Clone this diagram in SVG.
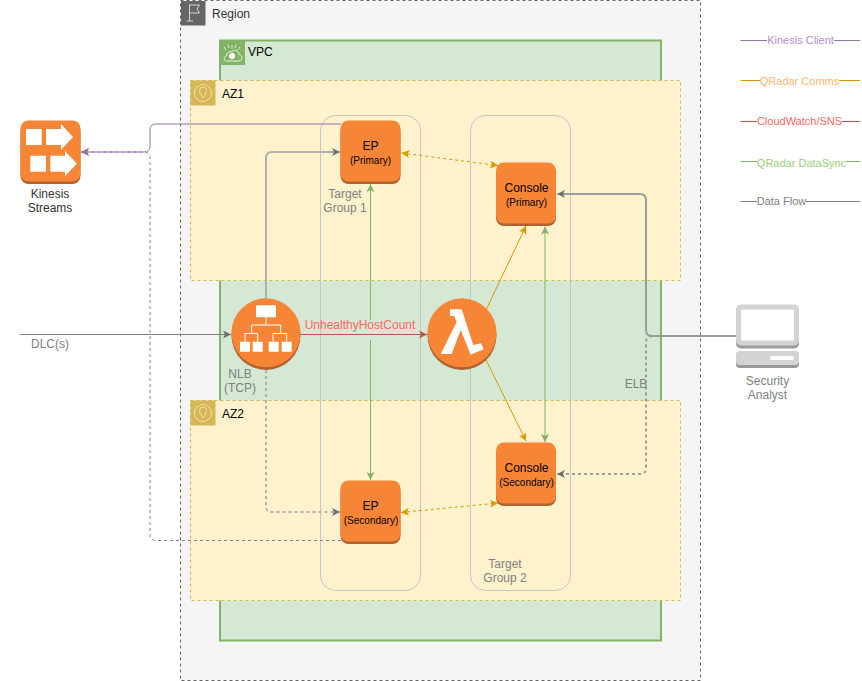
<svg xmlns="http://www.w3.org/2000/svg" width="862" height="681" viewBox="0 0 862 681">
<style>
text{font-family:"Liberation Sans",Arial,sans-serif;font-size:12px;text-anchor:middle}
.l{text-anchor:start}
.s{font-size:10px}
.lg{font-size:11px}
.g{fill:#808080}
.b{fill:#000}
.d{fill:#333}
.res{fill:#f68536}
.shade{fill:#b0622d}
.w{fill:#fff}
.tg{fill:none;stroke:#c3c5cc;stroke-width:1}
.az{fill:#fff2cc;stroke:#d6b656;stroke-dasharray:3 3}
.pu{stroke:#9673a6;fill:none}
.am{stroke:#d79b00;fill:none}
.gr{stroke:#82b366;fill:none}
.re{stroke:#b85450;fill:none}
.gy{stroke:#808080;fill:none}
.flow{stroke:#b0b0b0;stroke-width:2;fill:none}
.flow2{stroke:#9c9c9c;stroke-width:2;fill:none}
.dash{stroke-dasharray:3 3}
</style>
<defs>
<marker id="aPu" markerUnits="userSpaceOnUse" markerWidth="10" markerHeight="10" refX="8" refY="4" orient="auto-start-reverse"><path d="M0,0L8,4L0,8L2,4Z" fill="#9673a6"/></marker>
<marker id="aAm" markerUnits="userSpaceOnUse" markerWidth="10" markerHeight="10" refX="8" refY="4" orient="auto-start-reverse"><path d="M0,0L8,4L0,8L2,4Z" fill="#d79b00"/></marker>
<marker id="aGr" markerUnits="userSpaceOnUse" markerWidth="10" markerHeight="10" refX="8" refY="4" orient="auto-start-reverse"><path d="M0,0L8,4L0,8L2,4Z" fill="#82b366"/></marker>
<marker id="aRe" markerUnits="userSpaceOnUse" markerWidth="10" markerHeight="10" refX="8" refY="4" orient="auto-start-reverse"><path d="M0,0L8,4L0,8L2,4Z" fill="#b85450"/></marker>
<marker id="aGy" markerUnits="userSpaceOnUse" markerWidth="10" markerHeight="10" refX="8" refY="4" orient="auto-start-reverse"><path d="M0,0L8,4L0,8L2,4Z" fill="#6f6f6f"/></marker>
</defs>

<g id="region">
<rect x="180.500" y="0.500" width="520" height="680" fill="#f5f5f5" stroke="#666" stroke-dasharray="3 3"/>
<rect x="181" y="1" width="24.500" height="24.500" fill="#666"/>
<path d="M189.500,21V4.500M189.500,5H199.500L197,9L199.500,13H189.500M186.500,21H193" fill="none" stroke="#eee" stroke-width="0.800"/>
<text class="l d" x="212" y="18">Region</text>
</g>
<g id="vpc">
<rect x="220" y="40.500" width="441" height="600" fill="#d5e8d4" stroke="#82b366" stroke-width="2"/>
<rect x="220" y="40" width="25" height="25" fill="#82b366"/>
<path d="M226,61H239C243,61 243,55 239,54.500C239,50 233,49 231.500,52C228,51 226,54 227,55.500C223,56.500 224,61 226,61Z" fill="none" stroke="#fff" stroke-width="0.800"/>
<circle cx="232" cy="56" r="3" fill="#fff"/>
<path d="M232,49V45M226,50L224,47M238,50L240,47M229,48L228,45M235,48L236,45" stroke="#fff" stroke-width="0.700"/>
<text class="l b" x="248" y="56">VPC</text>
</g>
<g id="az1">
<rect class="az" x="190.500" y="80.500" width="490" height="200"/>
<rect x="190.500" y="80.500" width="25" height="25" fill="#d6b656"/>
<circle cx="203" cy="93" r="8.500" fill="none" stroke="#fff2cc" stroke-width="0.700"/>
<path d="M203,98C200,93.500 199.500,92 199.500,90.500A3.500,3.500 0 0 1 206.500,90.500C206.500,92 206,93.500 203,98Z" fill="none" stroke="#fff2cc" stroke-width="0.700"/>
<text class="l b" x="222" y="98">AZ1</text>
</g>
<g id="az2">
<rect class="az" x="190.500" y="400.500" width="490" height="200"/>
<rect x="190.500" y="400.500" width="25" height="25" fill="#d6b656"/>
<circle cx="203" cy="413" r="8.500" fill="none" stroke="#fff2cc" stroke-width="0.700"/>
<path d="M203,418C200,413.500 199.500,412 199.500,410.500A3.500,3.500 0 0 1 206.500,410.500C206.500,412 206,413.500 203,418Z" fill="none" stroke="#fff2cc" stroke-width="0.700"/>
<text class="l b" x="222" y="418">AZ2</text>
</g>
<g id="target-group-1">
<rect class="tg" x="320.500" y="115.500" width="100" height="475" rx="15"/>
<text class="g" x="345" y="198">Target</text>
<text class="g" x="345" y="212">Group 1</text>
</g>
<g id="target-group-2">
<rect class="tg" x="470.500" y="115.500" width="100" height="475" rx="15"/>
<text class="g" x="505" y="568">Target</text>
<text class="g" x="505" y="582">Group 2</text>
</g>

<g id="connectors">
<path class="pu" d="M341,124H156Q150,124 150,130V146Q150,152 144,152H81" marker-end="url(#aPu)"/>
<path class="pu dash" d="M341,540.500H156Q150,540.500 150,534.500V158Q150,152 144,152H81" marker-end="url(#aPu)"/>
<path class="flow" d="M266,299V158Q266,152 272,152H335"/>
<path class="gy" d="M334,152H340" marker-end="url(#aGy)"/>
<path class="flow dash" d="M266,370V506Q266,512 272,512H335"/>
<path class="gy" d="M334,512H340" marker-end="url(#aGy)"/>
<path class="flow2" d="M736,336H652Q646,336 646,330V200Q646,194 640,194H562"/>
<path class="gy" d="M563,194H557" marker-end="url(#aGy)"/>
<path class="flow2 dash" d="M736,336H652Q646,336 646,342V468Q646,474 640,474H562"/>
<path class="gy" d="M563,474H557" marker-end="url(#aGy)"/>
<path class="gy" d="M20,334.500H231" marker-end="url(#aGy)"/>
<path class="am dash" d="M401.500,153L498,165.500" marker-start="url(#aAm)" marker-end="url(#aAm)"/>
<path class="am dash" d="M401,512.500L498,503" marker-start="url(#aAm)" marker-end="url(#aAm)"/>
<path class="am" d="M486,310L526,226" marker-end="url(#aAm)"/>
<path class="am" d="M486,360L526,441" marker-end="url(#aAm)"/>
<path class="gr" d="M370.500,184V320" marker-start="url(#aGr)"/>
<path class="gr" d="M370.500,340V480" marker-end="url(#aGr)"/>
<path class="gr" d="M545,226.500V442" marker-start="url(#aGr)" marker-end="url(#aGr)"/>
<path class="re" d="M300,334.500H427" marker-end="url(#aRe)"/>
<text x="360" y="329" fill="#ff6666">UnhealthyHostCount</text>
<text class="g" x="50" y="348">DLC(s)</text>
<text class="g" x="240" y="378">NLB</text>
<text class="g" x="240" y="392">(TCP)</text>
<text class="g" x="636" y="388">ELB</text>
</g>

<g id="kinesis">
<rect class="shade" x="20.500" y="123" width="60" height="61" rx="8"/>
<rect class="res" x="20.500" y="120.500" width="60" height="61" rx="8"/>
<path class="w" d="M26,129H41.700V145H26ZM46,129H61V124L73,137L61,150V145H46ZM30.300,155.700H46V171.700H30.300ZM50.300,155.700H65V151L77,163.700L65,176V171.700H50.300Z"/>
<text class="d" x="50" y="198">Kinesis</text>
<text class="d" x="50" y="212">Streams</text>
</g>
<g id="ep-primary">
<rect class="shade" x="340.500" y="123" width="60" height="61" rx="8"/>
<rect class="res" x="340.500" y="120.500" width="60" height="61" rx="8"/>
<text class="b" x="370.500" y="150">EP</text>
<text class="b s" x="370.500" y="164">(Primary)</text>
</g>
<g id="console-primary">
<rect class="shade" x="496" y="165" width="60" height="61" rx="8"/>
<rect class="res" x="496" y="162.500" width="60" height="61" rx="8"/>
<text class="b" x="526.500" y="192">Console</text>
<text class="b s" x="526.500" y="206">(Primary)</text>
</g>
<g id="ep-secondary">
<rect class="shade" x="340.500" y="483" width="60" height="61" rx="8"/>
<rect class="res" x="340.500" y="480.500" width="60" height="61" rx="8"/>
<text class="b" x="370.500" y="510">EP</text>
<text class="b s" x="371" y="524">(Secondary)</text>
</g>
<g id="console-secondary">
<rect class="shade" x="496" y="445" width="60" height="61" rx="8"/>
<rect class="res" x="496" y="442.500" width="60" height="61" rx="8"/>
<text class="b" x="526.500" y="472">Console</text>
<text class="b s" x="526.500" y="486">(Secondary)</text>
</g>
<g id="nlb">
<circle class="shade" cx="266" cy="335.500" r="34.500"/>
<circle class="res" cx="266" cy="332.800" r="34.500"/>
<path class="w" d="M256,305.300H276V317.300H256ZM240,341.700H250V351.700H240ZM252.700,341.700H262.700V351.700H252.700ZM268.700,341.700H278.700V351.700H268.700ZM281.700,341.700H291.700V351.700H281.700Z"/>
<path d="M266,317V325M251.700,333V325H280.700V333M245,341.700V333.500H257.700V341.700M273,341.700V333.500H286.700V341.700" fill="none" stroke="#fff" stroke-width="1"/>
</g>
<g id="lambda">
<circle class="shade" cx="462" cy="335.500" r="34.500"/>
<circle class="res" cx="462" cy="332.800" r="34.500"/>
<path class="w" d="M450,309.300H461.700L473.300,345L481,343.300L483.700,349.300L470.700,354.700L460.700,330L451.700,354H440.700L456.700,321.700L454,316H450Z"/>
</g>
<g id="security-analyst">
<rect x="736" y="306" width="63" height="42.500" rx="5" fill="#9a9a9a"/>
<rect x="736" y="304.500" width="63" height="41" rx="5" fill="#d2d3d3"/>
<rect x="741" y="309.500" width="53" height="31" rx="1" fill="#fff"/>
<rect x="736" y="352" width="63" height="16" rx="4" fill="#9a9a9a"/>
<rect x="736" y="351" width="63" height="14" rx="4" fill="#d2d3d3"/>
<rect x="770" y="356" width="24" height="4" rx="2" fill="#fff"/>
<text class="g" x="767.500" y="385">Security</text>
<text class="g" x="767.500" y="399">Analyst</text>
</g>
<g id="legend">
<path class="pu" d="M740.500,40.500H767M834,40.500H860"/>
<text class="lg" x="800.500" y="44" fill="#b18fc9">Kinesis Client</text>
<path class="am" d="M740.500,80.500H760M839,80.500H860"/>
<text class="lg" x="799.500" y="85" fill="#ffb570">QRadar Comms</text>
<path class="re" d="M740.500,121.500H757M842,121.500H860"/>
<text class="lg" x="799.500" y="125" fill="#ff6666">CloudWatch/SNS</text>
<path class="gr" d="M740.500,161.500H757M846,161.500H860"/>
<text class="lg" x="801.500" y="167" fill="#97d077">QRadar DataSync</text>
<path class="gy" d="M740.500,201.500H757M806,201.500H860"/>
<text class="lg g" x="781.500" y="205">Data Flow</text>
</g>
</svg>
